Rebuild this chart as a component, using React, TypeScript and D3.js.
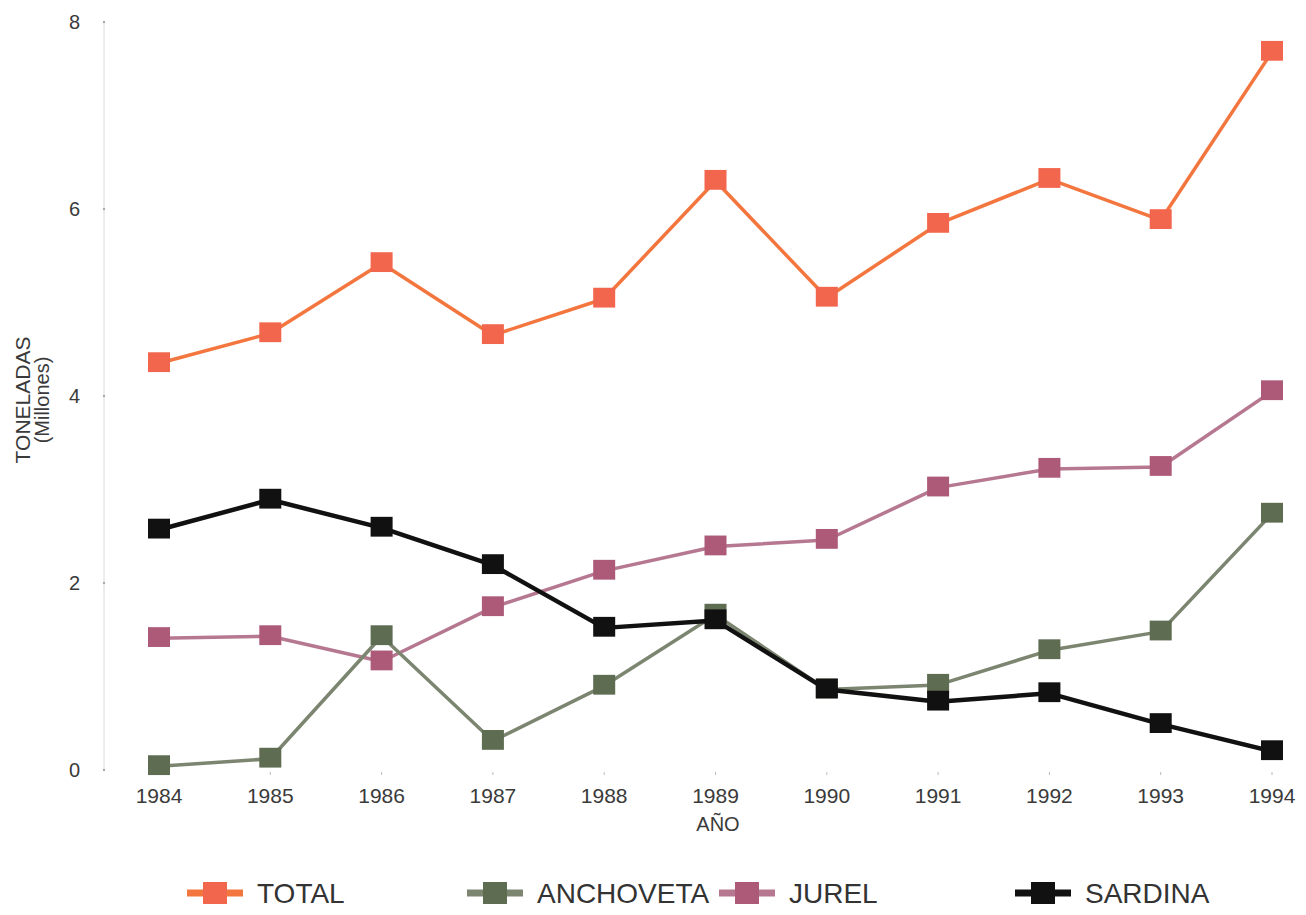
import React, { useRef, useEffect } from "react";
import * as d3 from "d3";

const years = [1984, 1985, 1986, 1987, 1988, 1989, 1990, 1991, 1992, 1993, 1994];
const total = [4.35, 4.67, 5.42, 4.65, 5.04, 6.3, 5.05, 5.84, 6.32, 5.88, 7.68];
const anchoveta = [0.04, 0.12, 1.43, 0.31, 0.9, 1.66, 0.86, 0.91, 1.28, 1.48, 2.74];
const jurel = [1.41, 1.43, 1.16, 1.74, 2.13, 2.39, 2.46, 3.02, 3.22, 3.24, 4.05];
const sardina = [2.57, 2.89, 2.59, 2.19, 1.52, 1.6, 0.86, 0.73, 0.82, 0.49, 0.2];
const yTicks = [0, 2, 4, 6, 8];

const series = [
    { name: "TOTAL", values: total, line: "#f4763f", marker: "#f2664d", width: 3.5, legendX: 215 },
    { name: "JUREL", values: jurel, line: "#b67890", marker: "#ad5a79", width: 3.5, legendX: 747 },
    { name: "ANCHOVETA", values: anchoveta, line: "#7b8570", marker: "#5e6c51", width: 3.5, legendX: 495 },
    { name: "SARDINA", values: sardina, line: "#111111", marker: "#111111", width: 4.5, legendX: 1043 },
];

const W = 1306;
const H = 915;
const FONT = "'Liberation Sans', Arial, sans-serif";

const App: React.FC = () => {
    const ref = useRef<SVGSVGElement | null>(null);

    useEffect(() => {
        document.body.style.margin = "0";
        if (!ref.current) return;
        const svg = d3.select(ref.current);
        svg.selectAll("*").remove();

        const x = d3.scaleLinear().domain([1984, 1994]).range([159, 1272]);
        const y = d3.scaleLinear().domain([0, 8]).range([770, 22]);

        svg.append("rect").attr("width", W).attr("height", H).attr("fill", "#ffffff");

        // eje y
        svg
            .append("line")
            .attr("x1", 104)
            .attr("x2", 104)
            .attr("y1", y(8))
            .attr("y2", y(0))
            .attr("stroke", "#dcdcdc")
            .attr("stroke-width", 1);

        svg
            .append("g")
            .selectAll("text")
            .data(yTicks)
            .enter()
            .append("text")
            .attr("x", 80)
            .attr("y", d => y(d) + 7)
            .attr("text-anchor", "end")
            .attr("font-family", FONT)
            .attr("font-size", 20)
            .attr("fill", "#3a3a3a")
            .text(d => d);

        svg
            .append("g")
            .selectAll("circle")
            .data(yTicks)
            .enter()
            .append("circle")
            .attr("cx", 104)
            .attr("cy", d => y(d))
            .attr("r", 1.2)
            .attr("fill", "#aaa");

        // eje x
        svg
            .append("g")
            .selectAll("line")
            .data(years)
            .enter()
            .append("line")
            .attr("x1", d => x(d))
            .attr("x2", d => x(d))
            .attr("y1", 772)
            .attr("y2", 775)
            .attr("stroke", "#bbb");

        svg
            .append("g")
            .selectAll("text")
            .data(years)
            .enter()
            .append("text")
            .attr("x", d => x(d))
            .attr("y", 803)
            .attr("text-anchor", "middle")
            .attr("font-family", FONT)
            .attr("font-size", 21)
            .attr("fill", "#3a3a3a")
            .text(d => d);

        svg
            .append("text")
            .attr("x", 718)
            .attr("y", 831)
            .attr("text-anchor", "middle")
            .attr("font-family", FONT)
            .attr("font-size", 20)
            .attr("fill", "#3a3a3a")
            .text("AÑO");

        const yTitle = svg.append("g").attr("transform", "translate(30,400) rotate(-90)");
        yTitle
            .append("text")
            .attr("x", 0)
            .attr("y", 0)
            .attr("text-anchor", "middle")
            .attr("font-family", FONT)
            .attr("font-size", 21)
            .attr("fill", "#3a3a3a")
            .text("TONELADAS");
        yTitle
            .append("text")
            .attr("x", 0)
            .attr("y", 19)
            .attr("text-anchor", "middle")
            .attr("font-family", FONT)
            .attr("font-size", 20)
            .attr("fill", "#3a3a3a")
            .text("(Millones)");

        const line = d3
            .line<number>()
            .x((_, i) => x(years[i]))
            .y(d => y(d));

        const ms = 22;
        series.forEach(s => {
            svg
                .append("path")
                .datum(s.values)
                .attr("fill", "none")
                .attr("stroke", s.line)
                .attr("stroke-width", s.width)
                .attr("stroke-linejoin", "round")
                .attr("d", line);

            svg
                .append("g")
                .selectAll("rect")
                .data(s.values)
                .enter()
                .append("rect")
                .attr("x", (_, i) => x(years[i]) - ms / 2)
                .attr("y", d => y(d) - ms / 2)
                .attr("width", ms)
                .attr("height", ms * 0.9)
                .attr("fill", s.marker);

            // leyenda
            const lg = svg.append("g").attr("transform", `translate(${s.legendX},893)`);
            lg.append("line")
                .attr("x1", -28)
                .attr("x2", 28)
                .attr("stroke", s.line)
                .attr("stroke-width", 7);
            lg.append("rect")
                .attr("x", -12)
                .attr("y", -11)
                .attr("width", 24)
                .attr("height", 22)
                .attr("fill", s.marker);
            lg.append("text")
                .attr("x", 42)
                .attr("y", 10)
                .attr("font-family", FONT)
                .attr("font-size", 28)
                .attr("fill", "#333")
                .text(s.name);
        });
    }, []);

    return <svg ref={ref} width={W} height={H} style={{ display: "block" }} />;
};

export default App;
